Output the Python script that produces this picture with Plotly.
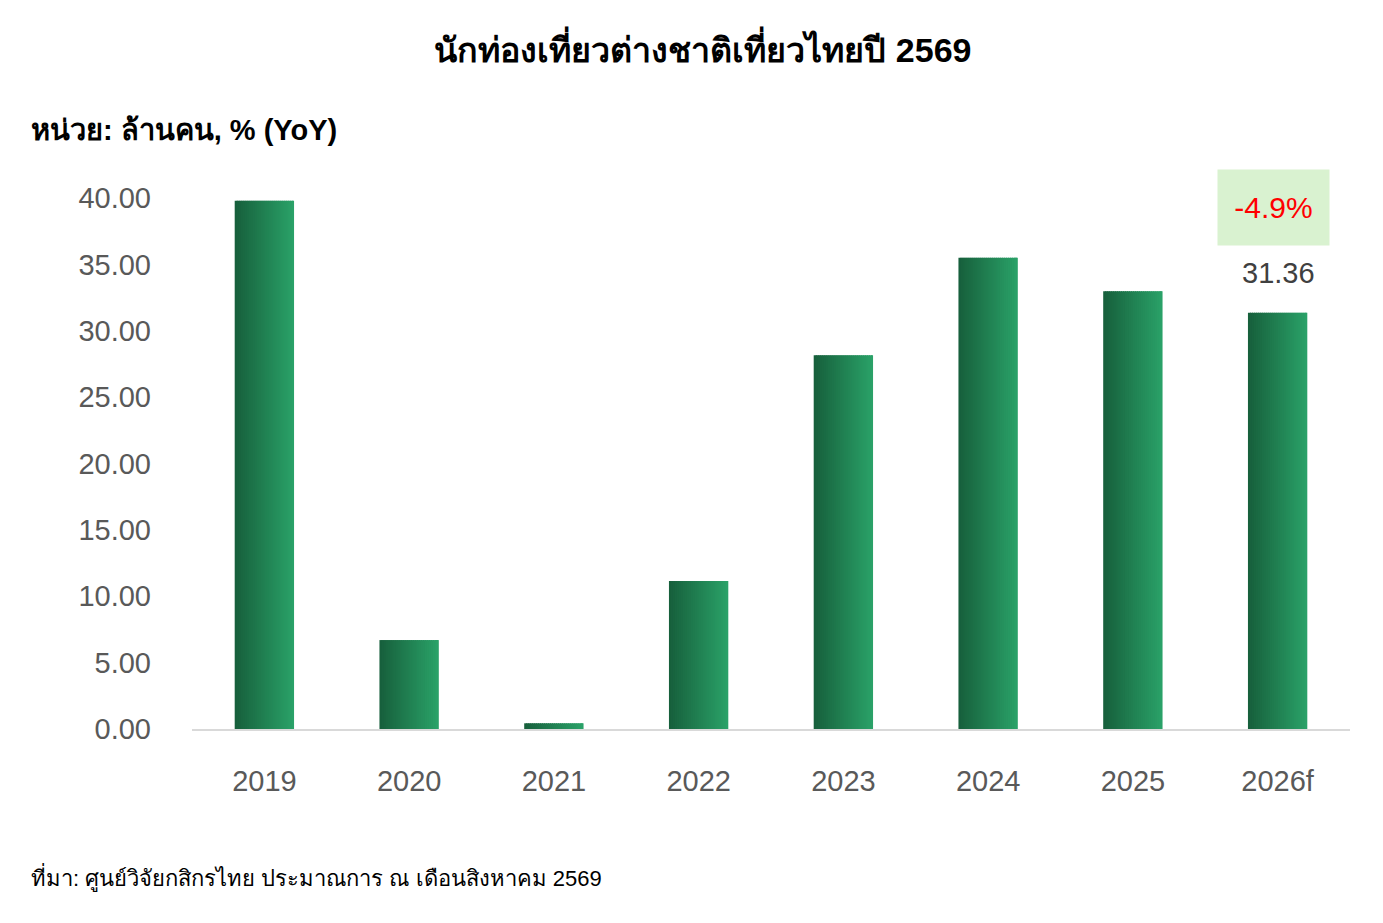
import plotly.graph_objects as go

# นักท่องเที่ยวต่างชาติ (ล้านคน)
years = ["2019", "2020", "2021", "2022", "2023", "2024", "2025", "2026f"]
tourists = [39.8, 6.7, 0.43, 11.15, 28.15, 35.5, 32.97, 31.36]
y_ticks = [0, 5, 10, 15, 20, 25, 30, 35, 40]

yoy = (tourists[-1] / tourists[-2] - 1) * 100

dark = (23, 96, 60)
light = (42, 161, 104)
bar_w = 0.41
n_strips = 30

fig = go.Figure()

# fake a left-to-right gradient with thin overlaid strips
for k in range(n_strips):
    t = k / (n_strips - 1)
    c = tuple(round(dark[i] + (light[i] - dark[i]) * t) for i in range(3))
    w = bar_w / n_strips
    if k < n_strips - 1:
        w += 0.008  # overlap a bit so no seams show
    fig.add_trace(go.Bar(
        x=years,
        y=tourists,
        width=w,
        offset=-bar_w / 2 + k * bar_w / n_strips,
        marker=dict(color="rgb(%d,%d,%d)" % c, line=dict(width=0)),
        showlegend=False,
        hoverinfo="skip",
    ))

fig.add_annotation(
    x=years[-1], y=tourists[-1], yref="y",
    text="%.2f" % tourists[-1], showarrow=False,
    yshift=40, xshift=1, font=dict(size=29, color="#404040", family="Liberation Sans"),
)
fig.add_annotation(
    x=years[-1], y=tourists[-1], yref="y",
    text="%.1f%%" % yoy, showarrow=False,
    yshift=105, xshift=-4, width=109, height=73, bgcolor="#d9f2d0",
    font=dict(size=30, color="#ff0000", family="Liberation Sans"),
)

fig.add_annotation(
    xref="paper", yref="paper", x=-0.1408, y=1.128, xanchor="left", yanchor="middle",
    text="<b>หน่วย: ล้านคน, % (YoY)</b>", showarrow=False,
    font=dict(size=29, color="#000000"),
)
fig.add_annotation(
    xref="paper", yref="paper", x=-0.1408, y=-0.279, xanchor="left", yanchor="middle",
    text="ที่มา: ศูนย์วิจัยกสิกรไทย ประมาณการ ณ เดือนสิงหาคม 2569", showarrow=False,
    font=dict(size=22, color="#000000"),
)

fig.update_layout(
    title=dict(
        text="<b>นักท่องเที่ยวต่างชาติเที่ยวไทยปี 2569</b>",
        x=0.5025, xanchor="center", y=0.9545, yanchor="middle",
        font=dict(size=34, color="#000000"),
    ),
    barmode="overlay",
    width=1383, height=923,
    margin=dict(l=184, r=41, t=190, b=202),
    plot_bgcolor="white", paper_bgcolor="white",
    font=dict(family="Liberation Sans, Noto Sans, sans-serif"),
)
fig.update_xaxes(
    showline=True, linecolor="#d9d9d9", linewidth=2,
    showgrid=False, ticks="", ticklabelstandoff=25,
    tickfont=dict(size=29, color="#595959", family="Liberation Sans"),
)
fig.update_yaxes(
    range=[0, 40], tickvals=y_ticks, tickformat=".2f",
    showgrid=False, zeroline=False, showline=False, ticks="",
    ticklabelstandoff=40,
    tickfont=dict(size=29, color="#595959", family="Liberation Sans"),
)

fig.write_html("out.html")
